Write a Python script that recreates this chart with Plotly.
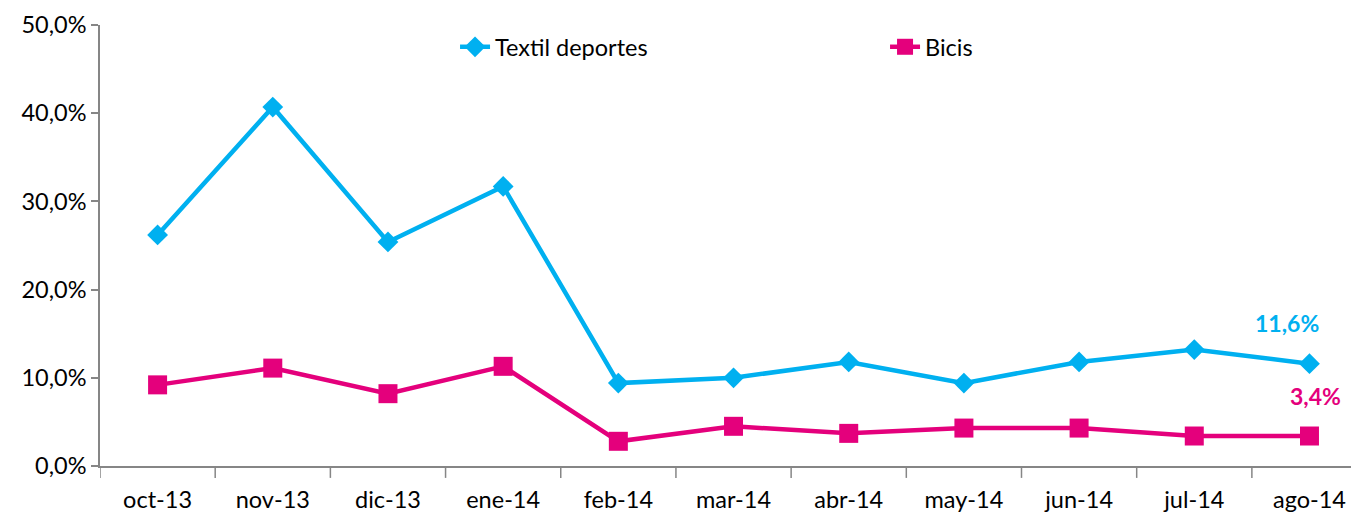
import plotly.graph_objects as go

months = ["oct-13", "nov-13", "dic-13", "ene-14", "feb-14", "mar-14",
          "abr-14", "may-14", "jun-14", "jul-14", "ago-14"]
textil = [0.262, 0.407, 0.254, 0.317, 0.094, 0.100, 0.118, 0.094, 0.118, 0.132, 0.116]
bicis = [0.092, 0.111, 0.082, 0.113, 0.028, 0.045, 0.037, 0.043, 0.043, 0.034, 0.034]
y_ticks = [0, 0.1, 0.2, 0.3, 0.4, 0.5]

BLUE = "#00B0F0"
PINK = "#E4007C"
AXIS = "#868686"
FONT = "Lato"
TICK_SIZE = 23.5

fig = go.Figure()

fig.add_trace(go.Scatter(
    x=list(range(len(months))), y=textil, name="Textil deportes",
    mode="lines+markers",
    line=dict(color=BLUE, width=4.5),
    marker=dict(symbol="diamond", size=16, color=BLUE),
))
fig.add_trace(go.Scatter(
    x=list(range(len(months))), y=bicis, name="Bicis",
    mode="lines+markers",
    line=dict(color=PINK, width=4.5),
    marker=dict(symbol="square", size=19, color=PINK),
))

# end-of-series value labels
last = len(months) - 1
fig.add_annotation(x=last, y=textil[-1], text=f"<b>{textil[-1]*100:.1f}%</b>".replace(".", ","),
                   showarrow=False, xanchor="center", yanchor="bottom", yshift=25, xshift=-22,
                   font=dict(color=BLUE, size=23, family=FONT))
fig.add_annotation(x=last, y=bicis[-1], text=f"<b>{bicis[-1]*100:.1f}%</b>".replace(".", ","),
                   showarrow=False, xanchor="center", yanchor="bottom", yshift=24, xshift=6,
                   font=dict(color=PINK, size=23, family=FONT))

fig.update_layout(
    width=1351, height=506,
    margin=dict(l=92, r=0, t=17, b=48),
    paper_bgcolor="white", plot_bgcolor="white",
    separators=",.",
    font=dict(family=FONT, size=TICK_SIZE, color="#000000"),
    showlegend=True,
    legend=dict(orientation="h", x=0.282, y=1.0, xanchor="left", yanchor="top",
                entrywidth=385, entrywidthmode="pixels",
                font=dict(size=TICK_SIZE, family=FONT), bgcolor="rgba(0,0,0,0)"),
)

fig.update_xaxes(
    range=[-0.5, 10.43],
    tickmode="array", tickvals=list(range(len(months))), ticktext=months,
    showline=True, linecolor=AXIS, linewidth=1.5,
    showgrid=False, zeroline=False,
    ticks="", ticklabelstandoff=12, tickfont=dict(size=TICK_SIZE),
)
# category boundary ticks
for i in range(len(months) + 1):
    fig.add_shape(type="line", xref="x", yref="paper",
                  x0=i - 0.5, x1=i - 0.5, y0=0, y1=-0.027,
                  line=dict(color=AXIS, width=1.5))

fig.update_yaxes(
    range=[0, 0.5], tickvals=y_ticks, tickformat=".1%",
    showline=True, linecolor=AXIS, linewidth=1.5,
    showgrid=False, zeroline=False,
    ticks="outside", ticklen=7, tickcolor=AXIS, tickwidth=1.5,
    tickfont=dict(size=TICK_SIZE),
)

fig.write_html("out.html")
